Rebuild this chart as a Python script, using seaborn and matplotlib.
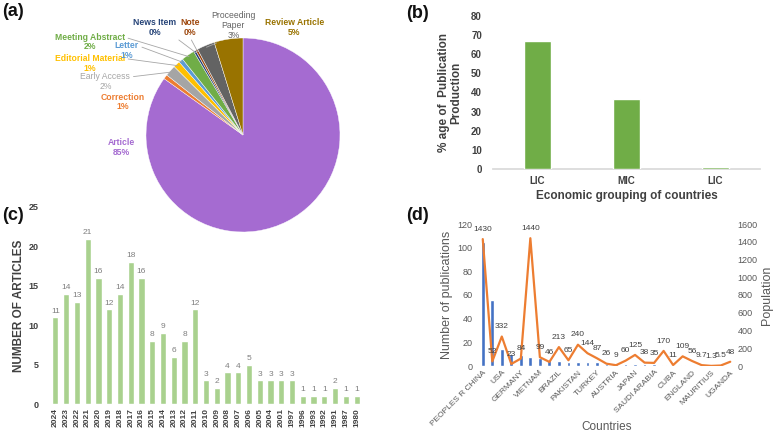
import matplotlib
matplotlib.use("Agg")
import matplotlib.pyplot as plt
import numpy as np
import seaborn as sns

# (a) document types
doc_types = ["Article", "Correction", "Early Access", "Editorial Material", "Letter",
             "Meeting Abstract", "News Item", "Note", "Proceeding\nPaper", "Review Article"]
doc_counts = [230, 2, 5, 3, 2, 6, 1, 1, 8, 13]
doc_colors = ["#A56BD1", "#ED7D31", "#A5A5A5", "#FFC000", "#5B9BD5",
              "#70AD47", "#264478", "#9E480E", "#636363", "#997300"]

# (b) economic grouping
econ_groups = ["LIC", "MIC", "LIC"]
econ_share = [67, 36.5, 1]

# (c) articles per year
years = ["2024", "2023", "2022", "2021", "2020", "2019", "2018", "2017", "2016", "2015",
         "2014", "2013", "2012", "2011", "2010", "2009", "2008", "2007", "2006", "2005",
         "2004", "2001", "1997", "1996", "1993", "1992", "1991", "1987", "1980"]
articles = [11, 14, 13, 21, 16, 12, 14, 18, 16, 8, 9, 6, 8, 12, 3, 2, 4, 4, 5, 3,
            3, 3, 3, 1, 1, 1, 2, 1, 1]

# (d) countries
countries = ["PEOPLES R CHINA", "SOUTH KOREA", "USA", "TAIWAN", "GERMANY", "INDIA",
             "VIETNAM", "SPAIN", "BRAZIL", "FRANCE", "PAKISTAN", "RUSSIA", "TURKEY",
             "AUSTRALIA", "AUSTRIA", "ITALY", "JAPAN", "CANADA", "SAUDI ARABIA",
             "BANGLADESH", "CUBA", "EGYPT", "ENGLAND", "HUNGARY", "MAURITIUS",
             "FINLAND", "UGANDA"]
publications = [105, 56, 14, 10, 9, 8, 7, 5, 4, 3, 3, 3, 3, 2, 2, 2, 2, 2, 2,
                1, 1, 1, 1, 1, 1, 1, 1]
population = [1430, 52, 332, 23, 84, 1440, 99, 46, 213, 65, 240, 144, 87, 26, 9,
              60, 125, 38, 35, 170, 11, 109, 56, 9.7, 1.3, 5.5, 48]

sns.set_theme(style="white")
plt.rcParams["font.family"] = ["Liberation Sans", "DejaVu Sans"]

W, H = 778, 437
fig = plt.figure(figsize=(W / 100, H / 100), dpi=100)


def box(x0, y0, x1, y1):
    # pixel box (top-left origin) -> figure fraction
    return [x0 / W, 1 - y1 / H, (x1 - x0) / W, (y1 - y0) / H]


dark = "#404040"
grey = "#595959"

# ---------- (c) ----------
axc = fig.add_axes(box(50, 207, 362, 404))
axc.patch.set_visible(False)
sns.barplot(x=years, y=articles, color="#A9D18E", saturation=1, width=0.58, ax=axc)
axc.bar_label(axc.containers[0], padding=2, fontsize=6, color="#7F7F7F")
axc.set_ylim(0, 25)
axc.set_yticks(range(0, 26, 5))
axc.set_xlim(-0.5, len(years) - 0.5)
axc.tick_params(axis="x", rotation=90, labelsize=6, length=0, pad=3, colors=dark)
axc.tick_params(axis="y", labelsize=6.5, length=0, pad=8, colors=dark)
for t in axc.get_xticklabels() + axc.get_yticklabels():
    t.set_fontweight("bold")
axc.set_xlabel("")
axc.set_ylabel("NUMBER OF ARTICLES", fontsize=8.5, fontweight="bold", color=dark, labelpad=3)
sns.despine(ax=axc, left=True, bottom=True)

# ---------- (b) ----------
axb = fig.add_axes(box(493, 16, 760, 169))
sns.barplot(x=[0, 1, 2], y=econ_share, color="#70AD47", saturation=1, width=0.31, ax=axb)
axb.set_xticks([0, 1, 2])
axb.set_xticklabels(econ_groups)
axb.set_xlim(-0.5, 2.5)
axb.set_ylim(0, 80)
axb.set_yticks(range(0, 81, 10))
axb.tick_params(axis="both", labelsize=7, length=0, colors=dark)
axb.tick_params(axis="y", pad=8)
axb.tick_params(axis="x", pad=5)
for t in axb.get_xticklabels() + axb.get_yticklabels():
    t.set_fontweight("bold")
axb.set_ylabel("% age of  Publication\nProduction", fontsize=8.5, fontweight="bold",
               color=dark, labelpad=6, linespacing=1.1)
axb.set_xlabel("Economic grouping of countries", fontsize=8.5, fontweight="bold",
               color=dark, labelpad=3)
sns.despine(ax=axb, left=True)
axb.spines["bottom"].set_color("#D9D9D9")
axb.spines["bottom"].set_zorder(0.5)

# ---------- (d) ----------
axd = fig.add_axes(box(478, 224, 735, 366))
sns.barplot(x=countries, y=publications, color="#4472C4", saturation=1, width=0.4, ax=axd)
axd.set_ylim(0, 120)
axd.set_yticks(range(0, 121, 20))
axt = axd.twinx()
sns.lineplot(x=np.arange(len(countries)), y=population, color="#ED7D31", lw=1.6, ax=axt)
axt.set_ylim(0, 1600)
axt.set_yticks(range(0, 1601, 200))
for i, v in enumerate(population):
    axt.annotate(f"{v:g}", (i, v), xytext=(0, 7), textcoords="offset points",
                 ha="center", va="center", fontsize=6, color=dark)
axd.set_xlim(-0.5, len(countries) - 0.5)
axd.set_xticks(range(0, len(countries), 2))
axd.set_xticklabels(countries[::2], rotation=45, ha="right", rotation_mode="anchor")
axd.tick_params(axis="x", labelsize=6, length=0, pad=2, colors=grey)
axd.tick_params(axis="y", labelsize=6.5, length=0, pad=4, colors=grey)
axt.tick_params(axis="y", labelsize=6.5, length=0, pad=2, colors=grey)
axd.set_xlabel("Countries", fontsize=8.5, color=grey)
axd.xaxis.set_label_coords(0.5, -0.385)
axd.set_ylabel("Number of publications", fontsize=9, color=grey, labelpad=3)
axt.set_ylabel("Population", fontsize=9, color=grey, labelpad=2)
for a in (axd, axt):
    for s in a.spines.values():
        s.set_visible(False)

# ---------- (a) ----------
axa = fig.add_axes(box(146, 38, 340, 232))
axa.pie(doc_counts, colors=doc_colors, startangle=90, counterclock=False,
        wedgeprops=dict(linewidth=0.3, edgecolor="white"))
axa.set_xlim(-1, 1)
axa.set_ylim(-1, 1)
axa.set_aspect("equal")
axa.axis("off")

total = sum(doc_counts)
# label layout: (x, y, leader line start, weight)
label_pos = [(-1.25, -0.13, None, "bold"),
             (-1.24, 0.34, None, "bold"),
             (-1.42, 0.55, (1, 0.75), "normal"),
             (-1.58, 0.74, (1, 0.75), "bold"),
             (-1.20, 0.87, (1, 0.75), "bold"),
             (-1.58, 0.96, (1, 0.75), "bold"),
             (-0.91, 1.11, (0.9, 0.1), "bold"),
             (-0.55, 1.11, (0.5, 0.0), "bold"),
             (-0.10, 1.13, (0.9, 0.4), "normal"),
             (0.53, 1.11, None, "bold")]
cum = 0
for name, cnt, col, (tx, ty, rel, wt) in zip(doc_types, doc_counts, doc_colors, label_pos):
    mid = np.deg2rad(90 - (cum + cnt / 2) / total * 360)
    cum += cnt
    txt = f"{name}\n{round(cnt / total * 100)}%"
    if rel is None:
        axa.text(tx, ty, txt, ha="center", va="center", fontsize=6.2, color=col,
                 fontweight=wt, linespacing=1.1)
    else:
        axa.annotate(txt, xy=(0.98 * np.cos(mid), 0.98 * np.sin(mid)), xytext=(tx, ty),
                     ha="center", va="center", fontsize=6.2, color=col, fontweight=wt,
                     linespacing=1.1, annotation_clip=False,
                     arrowprops=dict(arrowstyle="-", color="#A6A6A6", lw=0.6,
                                     relpos=rel, shrinkA=0, shrinkB=0))

# panel letters
for x, y, s in [(2, 11, "(a)"), (406, 13, "(b)"), (2, 216, "(c)"), (406, 216, "(d)")]:
    fig.text(x / W, 1 - y / H, s, fontsize=13, fontweight="bold", va="center", color="#111111")

fig.savefig("out.png", dpi=100)
